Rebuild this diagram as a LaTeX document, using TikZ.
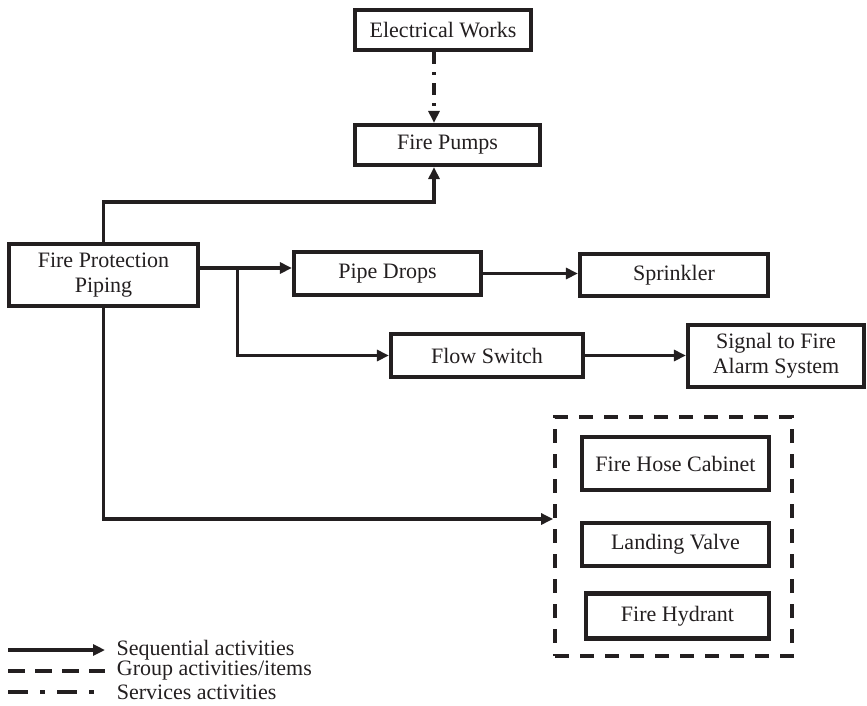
\documentclass[tikz,border=0pt]{standalone}
\usepackage{fontspec}
\setmainfont{Liberation Serif}
\usepackage{tikz}
\usetikzlibrary{arrows.meta,positioning,calc}
\definecolor{FireInk}{HTML}{231F20}

\begin{document}
\begin{tikzpicture}[
  x=1pt,y=-1pt,
  actbox/.style={draw=FireInk,line width=4.2pt,fill=white,text=FireInk,align=center,inner sep=2pt,font=\fontsize{22}{25}\selectfont},
  groupbox/.style={draw=FireInk,line width=3.8pt,dash pattern=on 14pt off 11pt},
  seqline/.style={-{Triangle[length=12pt,width=11pt]},draw=FireInk,line width=3.2pt},
  servline/.style={-{Triangle[length=12pt,width=11pt]},draw=FireInk,line width=3.2pt,dash pattern=on 12pt off 8pt on 3pt off 8pt},
  legtext/.style={anchor=west,xshift=10pt,inner sep=0pt,text=FireInk,font=\fontsize{22}{25}\selectfont}
]
\useasboundingbox (0,0) rectangle (867,705);
\node[groupbox,minimum width=237,minimum height=239] (group) at (673.5,536.5) {};
\node[actbox,minimum width=176,minimum height=40] (elec) at (443,30) {Electrical Works};
\node[actbox,minimum width=185,minimum height=40] (pumps) at (447.5,145) {Fire Pumps};
\node[actbox,minimum width=189,minimum height=62] (fpp) at (103.5,275) {Fire Protection\\Piping};
\node[actbox,minimum width=187,minimum height=43] (drops) at (387.5,273.5) {Pipe Drops};
\node[actbox,minimum width=188,minimum height=42] (sprink) at (674,275) {Sprinkler};
\node[actbox,minimum width=192,minimum height=43] (flow) at (487,355.5) {Flow Switch};
\node[actbox,minimum width=176,minimum height=62] (signal) at (776,356) {Signal to Fire\\Alarm System};
\node[actbox,minimum width=187,minimum height=53] (hose) at (675.5,463.5) {Fire Hose Cabinet};
\node[actbox,minimum width=187,minimum height=43,below=29pt of hose] (valve) {Landing Valve};
\node[actbox,minimum width=183,minimum height=45,below=23pt of valve,xshift=2pt] (hydrant) {Fire Hydrant};
\coordinate (split) at ([xshift=37pt,yshift=7pt]fpp.east);
\draw[servline] ([xshift=-9pt]elec.south) -- ([xshift=-9pt]elec.south |- pumps.north);
\draw[seqline] (fpp.north) -- ++(0,-40) -| ([xshift=-9pt]elec.south |- pumps.south);
\draw[seqline] ([yshift=7pt]fpp.east) -- (split -| drops.west);
\draw[seqline] (split) |- (flow.west);
\draw[seqline] (drops.east) -- (drops.east -| sprink.west);
\draw[seqline] (flow.east) -- (flow.east -| signal.west);
\draw[seqline] (fpp.south) |- ([yshift=17.5pt]group.west);
% legend
\coordinate (k1) at (8,650);
\coordinate (k2) at (8,671);
\coordinate (k3) at (8,692);
\draw[seqline] (k1) -- ++(97,0) node[legtext] (seqkey) {Sequential activities};
\draw[draw=FireInk,line width=3.8pt,dash pattern=on 17pt off 10pt] (k2) -- ++(97,0) node[legtext] (groupkey) {Group activities/items};
\draw[draw=FireInk,line width=3.8pt,dash pattern=on 20pt off 12pt on 5pt off 12pt] (k3) -- ++(97,0) node[legtext] (servkey) {Services activities};
\end{tikzpicture}
\end{document}
